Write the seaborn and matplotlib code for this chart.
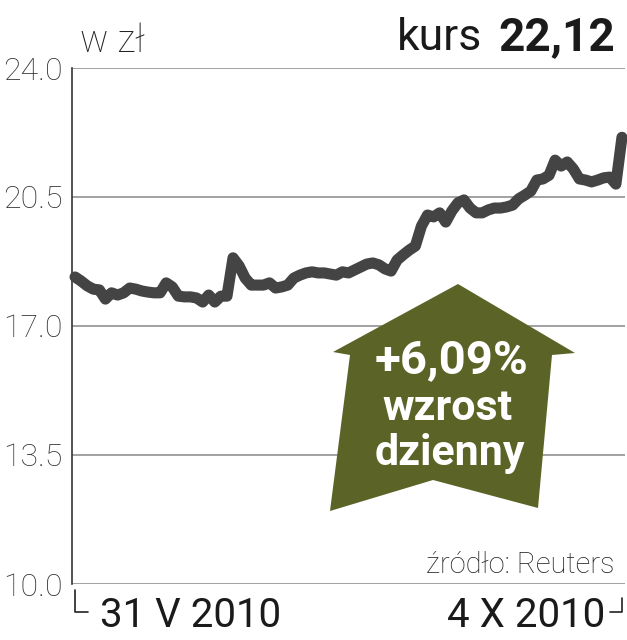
import numpy as np
import pandas as pd
import matplotlib
matplotlib.use('Agg')
import matplotlib.pyplot as plt
import seaborn as sns
from matplotlib.patches import Polygon
from matplotlib.lines import Line2D

# kurs zamkniecia (zl), sesje od 31 V 2010 do 4 X 2010
prices = [18.33, 18.22, 18.09, 18.00, 17.98, 17.73, 17.90, 17.84, 17.90, 18.03,
          18.00, 17.95, 17.92, 17.90, 17.90, 18.17, 18.06, 17.81, 17.79, 17.79,
          17.76, 17.65, 17.84, 17.65, 17.81, 17.81, 18.85, 18.63, 18.30, 18.11,
          18.11, 18.11, 18.17, 18.03, 18.06, 18.11, 18.30, 18.38, 18.44, 18.47,
          18.44, 18.44, 18.41, 18.38, 18.47, 18.44, 18.52, 18.60, 18.68, 18.71,
          18.66, 18.55, 18.49, 18.79, 18.93, 19.06, 19.17, 19.71, 20.01, 19.96,
          20.07, 19.82, 20.12, 20.34, 20.42, 20.20, 20.07, 20.07, 20.15, 20.20,
          20.20, 20.23, 20.28, 20.45, 20.55, 20.66, 20.96, 20.99, 21.09, 21.50,
          21.34, 21.45, 21.26, 20.99, 20.96, 20.91, 20.96, 21.02, 21.04, 20.85,
          22.12]
y_ticks = [10.0, 13.5, 17.0, 20.5, 24.0]
date_labels = ['31 V 2010', '4 X 2010']
last_price = '22,12'
change = '+6,09%'

sns.set_style('white')
plt.rcParams['font.family'] = ['Roboto', 'DejaVu Sans']

W, H = 627, 640
fig = plt.figure(figsize=(W / 100, H / 100), dpi=100)


def fx(px):
    return px / W


def fy(py):
    return 1 - py / H


ax = fig.add_axes([fx(72), fy(584), fx(625) - fx(72), fy(68) - fy(584)])

df = pd.DataFrame({'sesja': np.arange(len(prices)), 'kurs': prices})
sns.lineplot(data=df, x='sesja', y='kurs', ax=ax, color='#444444', linewidth=8,
             solid_capstyle='round', solid_joinstyle='round', clip_on=False, zorder=3)

ax.set_xlim(-0.5, len(prices) - 0.5)
ax.set_ylim(y_ticks[0], y_ticks[-1])
ax.set_yticks(y_ticks)
ax.set_yticklabels([f'{t:.1f}' for t in y_ticks])
ax.set_xticks([])
ax.set_xlabel('')
ax.set_ylabel('')
ax.grid(axis='y', color='#9a9a9a', linewidth=1.3)
ax.set_axisbelow(True)
for s in ['top', 'right', 'bottom']:
    ax.spines[s].set_visible(False)
ax.spines['left'].set_color('#333333')
ax.spines['left'].set_linewidth(1.2)
ax.tick_params(axis='y', length=0, pad=7, labelsize=23, labelcolor='#333333')
for lbl in ax.get_yticklabels():
    lbl.set_fontweight('light')

# naglowek
fig.text(fx(80), fy(52), 'w zł', fontsize=27, fontweight='light', color='#222222', va='baseline')
fig.text(fx(482), fy(50), 'kurs', fontsize=32, color='#1a1a1a', ha='right', va='baseline')
fig.text(fx(615), fy(50), last_price, fontsize=33, fontweight='bold', color='#1a1a1a',
         ha='right', va='baseline')
fig.text(fx(615), fy(573), 'źródło: Reuters', fontsize=21, fontweight='light', color='#222222',
         ha='right', va='baseline')

# strzalka
arrow = [(458, 284), (575, 353), (552, 355), (538, 508), (433, 480), (330, 511),
         (350, 355), (333, 352)]
fig.patches.append(Polygon([(fx(x), fy(y)) for x, y in arrow], closed=True,
                           facecolor='#5b6426', edgecolor='none', transform=fig.transFigure,
                           zorder=4))
fig.text(fx(452), fy(373), change, fontsize=34, fontweight='bold', color='white',
         ha='center', va='baseline', zorder=5)
fig.text(fx(448), fy(420), 'wzrost', fontsize=31, fontweight='bold', color='white',
         ha='center', va='baseline', zorder=5)
fig.text(fx(450), fy(465), 'dzienny', fontsize=31, fontweight='bold', color='white',
         ha='center', va='baseline', zorder=5)

# os czasu
for xs, ys in [([75, 75, 88], [590, 612, 612]), ([610, 622, 622], [612, 612, 598])]:
    fig.lines.append(Line2D([fx(x) for x in xs], [fy(y) for y in ys], color='#222222',
                            linewidth=1.2, transform=fig.transFigure))
fig.text(fx(100), fy(627), date_labels[0], fontsize=29, color='#1a1a1a',
         ha='left', va='baseline')
fig.text(fx(605), fy(627), date_labels[1], fontsize=29, color='#1a1a1a',
         ha='right', va='baseline')

fig.savefig('out.png', dpi=100)
